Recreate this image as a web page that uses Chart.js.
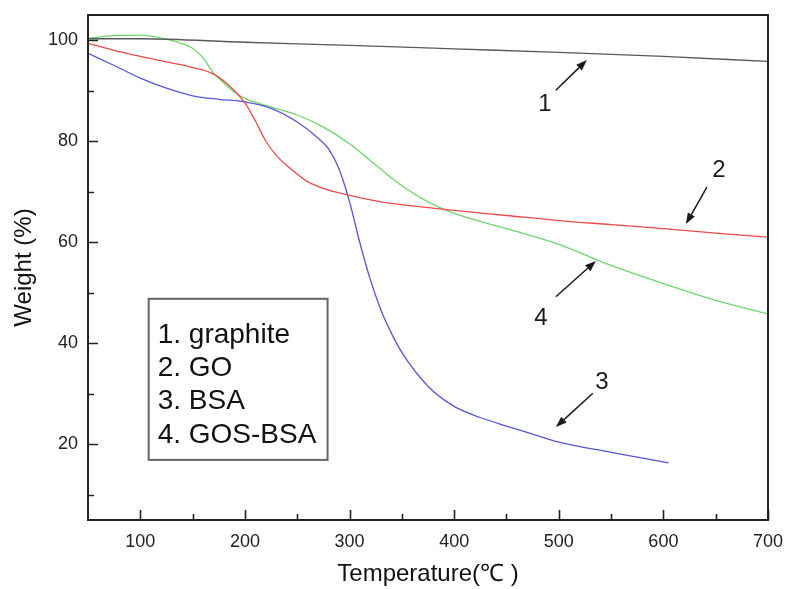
<!DOCTYPE html>
<html>
<head>
<meta charset="utf-8">
<script src="https://cdn.jsdelivr.net/npm/chart.js@4.4.1/dist/chart.umd.min.js"></script>
<style>
  html, body { margin: 0; padding: 0; background: #fff; }
  #wrap { width: 787px; height: 589px; }
</style>
</head>
<body>
<div id="wrap"><canvas id="tga" width="787" height="589"></canvas></div>
<script>
// TGA curves (temperature in C, weight in %)
const seriesNames = ['1. graphite', '2. GO', '3. BSA', '4. GOS-BSA'];

const graphiteT = [50, 100, 200, 300, 400, 500, 600, 700];
const graphiteW = [100.3, 100.3, 99.6, 99.0, 98.3, 97.6, 96.8, 95.8];

const goT = [50, 75, 100, 125, 150, 170, 185, 200, 210, 220, 230, 240, 260, 280, 300, 330, 360, 400, 450, 500, 550, 600, 650, 700];
const goW = [99.4, 98.0, 96.8, 95.7, 94.6, 93.3, 91.0, 87.6, 84.0, 80.0, 77.2, 75.2, 72.0, 70.3, 69.3, 68.0, 67.2, 66.3, 65.3, 64.3, 63.5, 62.7, 61.8, 61.0];

const bsaT = [50, 75, 100, 125, 150, 175, 200, 225, 250, 270, 280, 290, 300, 310, 320, 330, 340, 350, 375, 400, 425, 450, 475, 500, 550, 605];
const bsaW = [97.4, 95.0, 92.5, 90.5, 89.0, 88.3, 87.8, 86.5, 83.8, 80.6, 78.5, 74.5, 68.0, 59.8, 52.5, 46.6, 42.0, 38.2, 31.5, 27.5, 25.3, 23.6, 22.0, 20.4, 18.4, 16.3];

const gosT = [50, 75, 100, 125, 140, 150, 160, 170, 180, 190, 200, 225, 250, 275, 300, 325, 350, 375, 400, 450, 500, 550, 600, 650, 700];
const gosW = [100.4, 100.9, 101.0, 100.2, 99.3, 98.4, 96.5, 93.5, 91.5, 89.7, 88.5, 86.8, 85.2, 82.8, 79.5, 75.3, 71.2, 68.0, 65.7, 62.7, 59.6, 55.4, 51.8, 48.5, 45.8];

const xTickValues = [100, 150, 200, 250, 300, 350, 400, 450, 500, 550, 600, 650, 700];
const yTickValues = [10, 20, 30, 40, 50, 60, 70, 80, 90, 100];

// curve number labels with arrows (data coordinates)
const tagText = ['1', '2', '3', '4'];
const tagAt   = [[486.7, 87.4], [653.1, 74.3], [541.2, 32.3], [482.9, 45.0]];
const tagFrom = [[497.2, 90.1], [641.6, 70.9], [532.6, 30.1], [497.2, 49.2]];
const tagTo   = [[526.9, 96.1], [621.5, 63.6], [497.2, 23.4], [535.5, 56.3]];

const colors = ['#5a5a5a', '#ee4a4a', '#5656d8', '#6ad86a'];
const FONT = '"Liberation Sans", Arial, Helvetica, sans-serif';

function pts(xs, ys) {
    return xs.map((x, i) => ({ x: x, y: ys[i] }));
}

// frame, inward ticks, legend box and arrows
const decor = {
    id: 'decor',
    afterDraw(chart) {
        const ctx = chart.ctx;
        const a = chart.chartArea;
        const xs = chart.scales.x, ys = chart.scales.y;
        ctx.save();
        ctx.strokeStyle = '#222';
        ctx.lineWidth = 2;
        ctx.strokeRect(a.left, a.top, a.right - a.left, a.bottom - a.top);

        ctx.lineWidth = 1.6;
        ctx.beginPath();
        xTickValues.forEach(v => {
            const px = Math.round(xs.getPixelForValue(v)) + 0.5;
            const len = v % 100 === 0 ? 10 : 6;
            ctx.moveTo(px, a.bottom);
            ctx.lineTo(px, a.bottom - len);
        });
        yTickValues.forEach(v => {
            const py = Math.round(ys.getPixelForValue(v)) + 0.5;
            const len = v % 20 === 0 ? 10 : 6;
            ctx.moveTo(a.left, py);
            ctx.lineTo(a.left + len, py);
        });
        ctx.stroke();

        // legend box
        const bl = xs.getPixelForValue(108), br = xs.getPixelForValue(279);
        const bt = ys.getPixelForValue(48.8), bb = ys.getPixelForValue(16.9);
        ctx.strokeStyle = '#666';
        ctx.lineWidth = 2;
        ctx.strokeRect(bl, bt, br - bl, bb - bt);
        ctx.fillStyle = '#111';
        ctx.font = '28px ' + FONT;
        ctx.textAlign = 'left';
        ctx.textBaseline = 'alphabetic';
        chart.data.datasets.forEach((ds, i) => {
            ctx.fillText(ds.label, bl + 9, bt + 44 + i * 33.3);
        });

        // arrows
        ctx.strokeStyle = '#1a1a1a';
        ctx.fillStyle = '#1a1a1a';
        ctx.lineWidth = 1.5;
        ctx.font = '24px ' + FONT;
        ctx.textAlign = 'center';
        ctx.textBaseline = 'middle';
        tagText.forEach((t, i) => {
            const tx = xs.getPixelForValue(tagAt[i][0]), ty = ys.getPixelForValue(tagAt[i][1]);
            ctx.fillText(t, tx, ty);
            const x0 = xs.getPixelForValue(tagFrom[i][0]), y0 = ys.getPixelForValue(tagFrom[i][1]);
            const x1 = xs.getPixelForValue(tagTo[i][0]), y1 = ys.getPixelForValue(tagTo[i][1]);
            const ang = Math.atan2(y1 - y0, x1 - x0);
            const hl = 11, hw = 4;
            const bx = x1 - hl * Math.cos(ang), by = y1 - hl * Math.sin(ang);
            ctx.beginPath();
            ctx.moveTo(x0, y0);
            ctx.lineTo(bx, by);
            ctx.stroke();
            ctx.beginPath();
            ctx.moveTo(x1, y1);
            ctx.lineTo(bx - hw * Math.sin(ang), by + hw * Math.cos(ang));
            ctx.lineTo(bx + hw * Math.sin(ang), by - hw * Math.cos(ang));
            ctx.closePath();
            ctx.fill();
        });
        ctx.restore();
    }
};

const allSeries = [pts(graphiteT, graphiteW), pts(goT, goW), pts(bsaT, bsaW), pts(gosT, gosW)];

new Chart(document.getElementById('tga'), {
    type: 'line',
    data: {
        datasets: allSeries.map((d, i) => ({
            label: seriesNames[i],
            data: d,
            borderColor: colors[i],
            borderWidth: 1.3,
            pointRadius: 0,
            cubicInterpolationMode: 'monotone',
            fill: false
        }))
    },
    options: {
        responsive: false,
        animation: false,
        layout: { padding: { left: 0, right: 19, top: 15, bottom: 0 } },
        plugins: {
            legend: { display: false },
            tooltip: { enabled: false }
        },
        scales: {
            x: {
                type: 'linear',
                min: 50,
                max: 700,
                afterBuildTicks: s => { s.ticks = xTickValues.map(v => ({ value: v })); },
                afterFit: s => { s.height = 69; s.paddingLeft = 0; s.paddingRight = 0; },
                grid: { display: false, drawTicks: false },
                border: { display: false },
                ticks: {
                    autoSkip: false,
                    maxRotation: 0,
                    padding: 11,
                    color: '#222',
                    font: { family: FONT, size: 18 },
                    callback: v => (v % 100 === 0 ? v : '')
                },
                title: {
                    display: true,
                    text: 'Temperature(℃ )',
                    color: '#111',
                    font: { family: FONT, size: 24 },
                    padding: { top: 0, bottom: 0 }
                }
            },
            y: {
                type: 'linear',
                min: 5,
                max: 105,
                afterBuildTicks: s => { s.ticks = yTickValues.map(v => ({ value: v })); },
                afterFit: s => { s.width = 88; s.paddingTop = 0; s.paddingBottom = 0; },
                grid: { display: false, drawTicks: false },
                border: { display: false },
                ticks: {
                    autoSkip: false,
                    padding: 10,
                    color: '#222',
                    font: { family: FONT, size: 18 },
                    callback: v => (v % 20 === 0 ? v : '')
                },
                title: {
                    display: true,
                    text: 'Weight (%)',
                    color: '#111',
                    font: { family: FONT, size: 24 },
                    padding: { top: 10, bottom: 0 }
                }
            }
        }
    },
    plugins: [decor]
});
</script>
</body>
</html>
